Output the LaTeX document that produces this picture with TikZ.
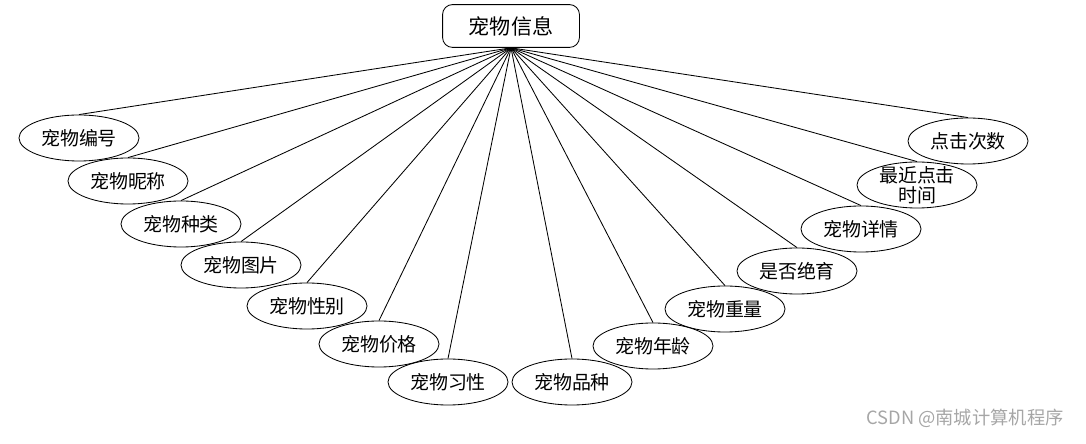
\documentclass[tikz,border=0pt]{standalone}
\usepackage{fontspec}
\setmainfont{Noto Sans CJK SC}
\usetikzlibrary{shapes.geometric}

\begin{document}
\begin{tikzpicture}[x=0.025cm,y=-0.025cm,line width=0.6pt,
  attr/.style={ellipse,draw,inner sep=0pt,minimum width=3cm,minimum height=1.15cm,font=\fontsize{13.5}{15}\selectfont},
  entity/.style={draw,rounded corners=7pt,minimum width=3.42cm,minimum height=1.07cm,font=\fontsize{15}{17}\selectfont}]
  \useasboundingbox (0,0) rectangle (1086,444);
  \node[entity] (pet) at (511,26) {宠物信息};
  \node[attr] (id) at (79,138) {宠物编号};
  \node[attr] (nick) at (128,181) {宠物昵称};
  \node[attr] (kind) at (181,224) {宠物种类};
  \node[attr] (pic) at (241,265) {宠物图片};
  \node[attr] (sex) at (307,306) {宠物性别};
  \node[attr] (price) at (379,344) {宠物价格};
  \node[attr] (habit) at (448,382) {宠物习性};
  \node[attr] (breed) at (572,382) {宠物品种};
  \node[attr] (age) at (653,346) {宠物年龄};
  \node[attr] (weight) at (725,309) {宠物重量};
  \node[attr] (neuter) at (797,271) {是否绝育};
  \node[attr] (detail) at (861,229) {宠物详情};
  \node[attr,inner ysep=-4pt,align=center,font=\fontsize{13.5}{14}\selectfont] (lastclick) at (917,185) {最近点击\\时间};
  \node[attr] (clicks) at (968,141) {点击次数};
  \foreach \a in {id,nick,kind,pic,sex,price,habit,breed,age,weight,neuter,detail,lastclick,clicks}
    \draw (pet.south) -- (\a.north);
  \node[text=gray!70,font=\fontsize{13}{15}\selectfont] (mark) at (965,418) {CSDN @南城计算机程序};
\end{tikzpicture}
\end{document}
